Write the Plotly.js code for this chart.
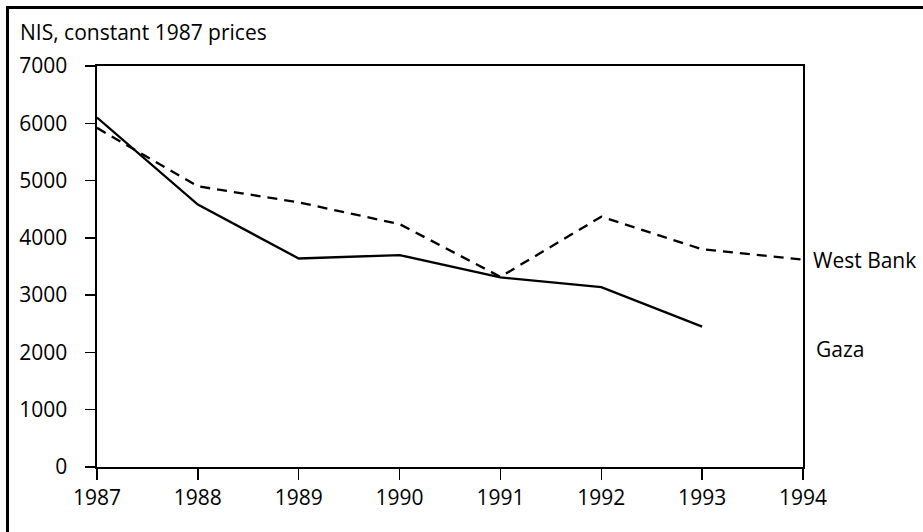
<!DOCTYPE html>
<html>
<head>
<meta charset="utf-8">
<script src="https://cdn.plot.ly/plotly-3.0.1.min.js"></script>
<style>
html,body{margin:0;padding:0;background:#fff;}
#chart{width:923px;height:532px;}
</style>
</head>
<body>
<div id="chart"></div>
<script>
const years = [1987, 1988, 1989, 1990, 1991, 1992, 1993, 1994];
const westBankYears = [1987, 1988, 1989, 1990, 1991, 1992, 1993, 1994];
const westBank = [5920, 4900, 4620, 4240, 3320, 4370, 3800, 3620];
const gazaYears = [1987, 1988, 1989, 1990, 1991, 1992, 1993];
const gaza = [6100, 4580, 3640, 3700, 3310, 3140, 2450];
const yTicks = [0, 1000, 2000, 3000, 4000, 5000, 6000, 7000];
const seriesNames = ["West Bank", "Gaza"];
const gazaLabelY = 2060;
const yTitle = "NIS, constant 1987 prices";

const FONT = "Open Sans, sans-serif";
const FS = 21;
const L = 97, R = 120, T = 66, B = 65;
const W = 923, H = 532;
const pw = W - L - R, ph = H - T - B;

const traces = [
  {x: westBankYears, y: westBank, name: seriesNames[0], mode: "lines",
   line: {color: "#000", width: 2.3, dash: "10px,7px"}},
  {x: gazaYears, y: gaza, name: seriesNames[1], mode: "lines",
   line: {color: "#000", width: 2.3}}
];

const layout = {
  width: W, height: H,
  margin: {l: L, r: R, t: T, b: B, pad: 0},
  paper_bgcolor: "#fff", plot_bgcolor: "#fff",
  showlegend: false,
  font: {family: FONT, size: FS, color: "#000"},
  title: {text: yTitle, xref: "container", x: 20 / W, xanchor: "left",
          yref: "container", y: 1 - 33 / H, yanchor: "middle",
          font: {family: FONT, size: FS, color: "#000"}},
  xaxis: {range: [years[0], years[years.length - 1]], tickvals: years,
          ticktext: years.map(String),
          showgrid: false, zeroline: false, showline: true, mirror: true,
          linecolor: "#000", linewidth: 1.6, ticks: "outside", ticklen: 11,
          tickwidth: 1.5, tickcolor: "#000",
          tickfont: {family: FONT, size: FS, color: "#000"}},
  yaxis: {range: [0, 7000], tickvals: yTicks, ticktext: yTicks.map(String),
          showgrid: false, zeroline: false, showline: true, mirror: true,
          linecolor: "#000", linewidth: 1.6, ticks: "outside", ticklen: 10,
          tickwidth: 1.5, tickcolor: "#000", ticklabelstandoff: 14,
          tickfont: {family: FONT, size: FS, color: "#000"}},
  annotations: [
    {xref: "x", yref: "y", x: years[years.length - 1], y: westBank[westBank.length - 1],
     text: seriesNames[0], showarrow: false, xanchor: "left", yanchor: "middle",
     xshift: 8, font: {family: FONT, size: FS, color: "#000"}},
    {xref: "x", yref: "y", x: years[years.length - 1], y: gazaLabelY,
     text: seriesNames[1], showarrow: false, xanchor: "left", yanchor: "middle",
     xshift: 11, font: {family: FONT, size: FS, color: "#000"}}
  ],
  shapes: [
    {type: "rect", xref: "paper", yref: "paper",
     x0: (7.5 - L) / pw, x1: (W + 20 - L) / pw,
     y0: -(B + 20) / ph, y1: 1 + (T - 7.5) / ph,
     line: {color: "#000", width: 3}, fillcolor: "rgba(0,0,0,0)"}
  ]
};

Plotly.newPlot("chart", traces, layout, {displayModeBar: false, staticPlot: true});
</script>
</body>
</html>
